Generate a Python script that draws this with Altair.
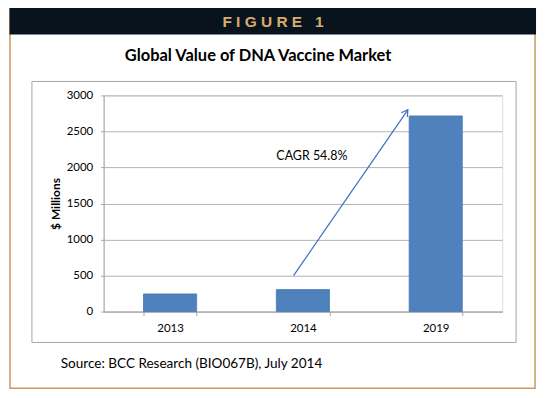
import math
import altair as alt
import pandas as pd

# ---- data ----
years = ["2013", "2014", "2019"]
values = [245, 305, 2715]
y_ticks = [0, 500, 1000, 1500, 2000, 2500, 3000]
arrow_x = [1.43, 2.29]      # position in band units along the x axis
arrow_y = [500, 2800]       # $ millions
cagr_label = "CAGR 54.8%"

W, H = 400, 217
FONT = "Lato"
TAN = "#c89a5e"
DARK = "#08131e"
GRAY = "#a6a6a6"
BLUE = "#4f81bd"
NB = "\u00a0"

bars_df = pd.DataFrame({"year": years, "value": values})
arrow_df = pd.DataFrame({"bx": arrow_x, "v": arrow_y})
one = pd.DataFrame({"k": [0]})

yscale = alt.Scale(domain=[0, 3000], nice=False)
xq = alt.Scale(domain=[0, 3], nice=False, zero=False)
y_axis = alt.Axis(title="$ Millions", values=y_ticks, format="d", tickSize=3,
                  labelPadding=8, labelOverlap=False,
                  gridColor="#b3b3b3", domainColor=GRAY, tickColor=GRAY,
                  labelFont=FONT, labelFontSize=11.5, labelColor="black",
                  titleFont=FONT, titleFontSize=12, titleFontWeight="bold",
                  titleColor="black", titlePadding=4)

# decorations (frame, header, inner box, texts) in pixel space relative to plot
outer = alt.Chart(one).mark_rect(fillOpacity=0, stroke=TAN, strokeWidth=1.5).encode(
    x=alt.value(-94), x2=alt.value(433), y=alt.value(-88), y2=alt.value(294))
header = alt.Chart(one).mark_rect(fill=DARK).encode(
    x=alt.value(-94.5), x2=alt.value(434), y=alt.value(-89), y2=alt.value(-61))
inner = alt.Chart(one).mark_rect(fillOpacity=0, stroke=GRAY, strokeWidth=1).encode(
    x=alt.value(-72), x2=alt.value(414), y=alt.value(-14), y2=alt.value(248))
fig_text = alt.Chart(one).mark_text(font="Liberation Sans", fontWeight="bold", fontSize=15.5,
                                    color="#d9ab6c", align="center", baseline="middle").encode(
    x=alt.value(170), y=alt.value(-74),
    text=alt.value(NB.join(list("FIGURE")) + NB * 3 + "1"))
title = alt.Chart(one).mark_text(font=FONT, fontWeight="bold", fontSize=16.5,
                                 color="black", align="center", baseline="middle").encode(
    x=alt.value(155), y=alt.value(-40), text=alt.value("Global Value of DNA Vaccine Market"))
source = alt.Chart(one).mark_text(font=FONT, fontSize=13.6, color="black",
                                  align="left", baseline="middle").encode(
    x=alt.value(-43), y=alt.value(270), text=alt.value("Source: BCC Research (BIO067B), July 2014"))

bars = alt.Chart(bars_df).mark_bar(color=BLUE, stroke="#4677b4", strokeWidth=0.8).encode(
    x=alt.X("year:N", sort=years,
            scale=alt.Scale(paddingInner=0.6, paddingOuter=0.3),
            axis=alt.Axis(title=None, labelAngle=0, tickBand="extent", tickSize=4,
                          labelPadding=7, domainColor=GRAY, tickColor=GRAY,
                          labelFontSize=11.5, labelColor="black", labelFont=FONT, grid=False)),
    y=alt.Y("value:Q", scale=yscale, axis=y_axis),
)

arrow_line = alt.Chart(arrow_df).mark_line(color="#3c70c2", strokeWidth=1.2).encode(
    x=alt.X("bx:Q", scale=xq, axis=None),
    y=alt.Y("v:Q", scale=yscale, axis=y_axis),
)
ang = math.degrees(math.atan2((arrow_x[1] - arrow_x[0]) * W / 3,
                              (arrow_y[1] - arrow_y[0]) * H / 3000))
arrow_head = alt.Chart(arrow_df.tail(1)).mark_point(
    shape="M -0.6 1 L 0 0 L 0.6 1", filled=False, angle=ang, size=150,
    strokeWidth=1.2, color="#3c70c2", opacity=1).encode(
    x=alt.X("bx:Q", scale=xq, axis=None),
    y=alt.Y("v:Q", scale=yscale, axis=y_axis),
)
cagr = alt.Chart(one).mark_text(font=FONT, fontSize=12.5, color="black",
                                align="left", baseline="middle").encode(
    x=alt.X("pos:Q", scale=xq, axis=None), y=alt.Y("vy:Q", scale=yscale, axis=y_axis),
    text=alt.value(cagr_label)).transform_calculate(pos="1.30", vy="2160")

chart = alt.layer(outer, header, inner, fig_text, title, source,
                  bars, arrow_line, arrow_head, cagr).resolve_scale(
    x="independent").properties(
    width=W, height=H,
    autosize=alt.AutoSizeParams(type="none"),
    padding={"left": 96, "top": 87, "right": 40, "bottom": 80},
).configure_view(stroke=None).configure(background="white")

chart.save("out.html", embed_options={"renderer": "svg", "actions": False})
